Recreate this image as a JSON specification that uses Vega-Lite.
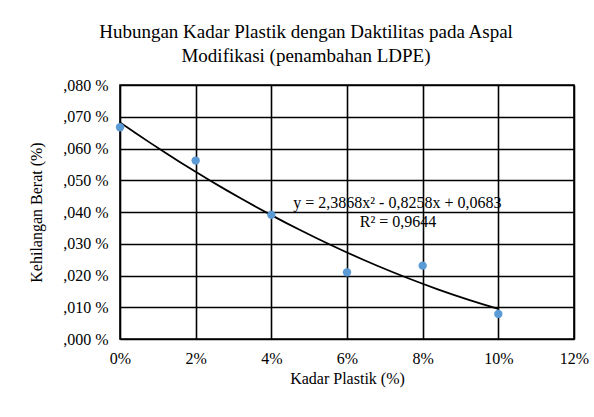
{
  "$schema": "https://vega.github.io/schema/vega-lite/v6.json",
  "autosize": {"type": "none"},
  "padding": {"left": 120, "top": 85, "right": 20, "bottom": 78},
  "width": 454,
  "height": 254,
  "background": "white",
  "title": {
    "text": ["Hubungan Kadar Plastik dengan Daktilitas  pada Aspal", "Modifikasi  (penambahan LDPE)"],
    "font": "Liberation Serif",
    "fontSize": 19,
    "fontWeight": "normal",
    "color": "#000000",
    "lineHeight": 24,
    "anchor": "middle",
    "frame": "group",
    "dx": -41,
    "offset": 11
  },
  "config": {
    "view": {"stroke": "#000000", "strokeWidth": 1.6},
    "font": "Liberation Serif",
    "axis": {"labelFont": "Liberation Serif", "titleFont": "Liberation Serif"},
    "text": {"font": "Liberation Serif"}
  },
  "datasets": {
    "points": [
      {"kadar": 0.00, "berat": 0.0667},
      {"kadar": 0.02, "berat": 0.0562},
      {"kadar": 0.04, "berat": 0.0391},
      {"kadar": 0.06, "berat": 0.0210},
      {"kadar": 0.08, "berat": 0.0231},
      {"kadar": 0.10, "berat": 0.0079}
    ],
    "notes": [
      {"kadar": 0.0733, "berat": 0.0428, "label": "y = 2,3868x² - 0,8258x + 0,0683"},
      {"kadar": 0.0735, "berat": 0.0369, "label": "R² = 0,9644"}
    ]
  },
  "encoding": {
    "x": {
      "field": "kadar", "type": "quantitative",
      "scale": {"domain": [0, 0.12], "nice": false},
      "axis": {
        "values": [0, 0.02, 0.04, 0.06, 0.08, 0.1, 0.12],
        "tickCount": 12,
        "format": ".0%",
        "title": "Kadar Plastik (%)",
        "titleFont": "Liberation Serif",
        "titleFontSize": 16,
        "titleFontWeight": "normal",
        "titleColor": "#000000",
        "titlePadding": 4,
        "labelFont": "Liberation Serif",
        "labelFontSize": 16,
        "labelColor": "#000000",
        "labelPadding": 11,
        "labelFlush": false,
        "labelOverlap": false,
        "ticks": false,
        "domain": false,
        "grid": true,
        "gridColor": "#000000",
        "gridOpacity": 1,
        "gridWidth": 1.6
      }
    },
    "y": {
      "field": "berat", "type": "quantitative",
      "scale": {"domain": [0, 0.08], "nice": false},
      "axis": {
        "values": [0, 0.01, 0.02, 0.03, 0.04, 0.05, 0.06, 0.07, 0.08],
        "tickCount": 12,
        "labelExpr": "replace(format(datum.value, '.3f'), '0.', ',') + ' %'",
        "title": "Kehilangan Berat (%)",
        "titleFont": "Liberation Serif",
        "titleFontSize": 16,
        "titleFontWeight": "normal",
        "titleColor": "#000000",
        "titlePadding": 18,
        "labelFont": "Liberation Serif",
        "labelFontSize": 16,
        "labelColor": "#000000",
        "labelPadding": 12,
        "labelFlush": false,
        "labelOverlap": false,
        "ticks": false,
        "domain": false,
        "grid": true,
        "gridColor": "#000000",
        "gridOpacity": 1,
        "gridWidth": 1.6
      }
    }
  },
  "layer": [
    {
      "data": {"name": "points"},
      "transform": [
        {"regression": "berat", "on": "kadar", "method": "poly", "order": 2, "extent": [0, 0.1]}
      ],
      "mark": {"type": "line", "color": "#000000", "strokeWidth": 1.8, "interpolate": "monotone"}
    },
    {
      "data": {"name": "points"},
      "mark": {"type": "circle", "color": "#5B9BD5", "opacity": 1, "size": 70}
    },
    {
      "data": {"name": "notes"},
      "mark": {"type": "text", "font": "Liberation Serif", "fontSize": 16, "color": "#000000", "baseline": "middle", "align": "center"},
      "encoding": {
        "text": {"field": "label"}
      }
    }
  ]
}
